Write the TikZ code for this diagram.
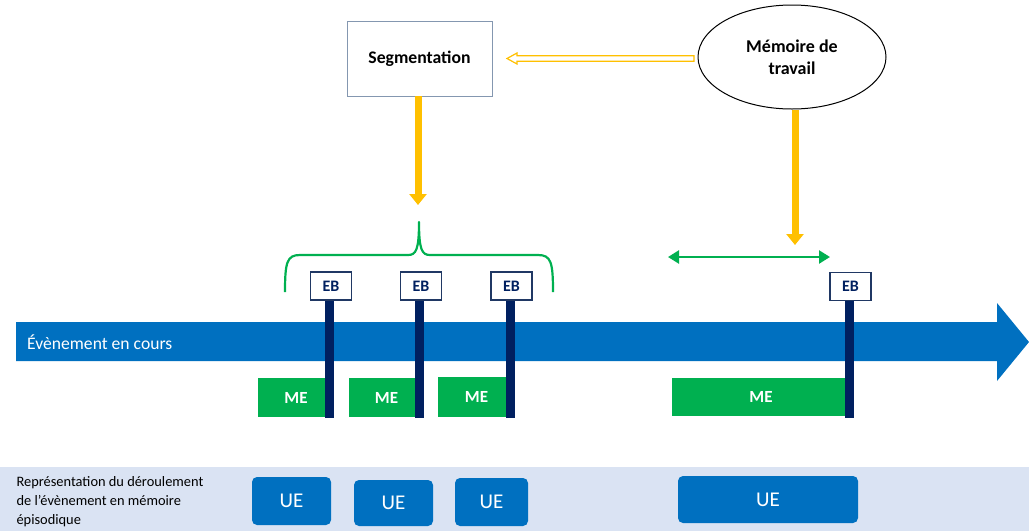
\documentclass[tikz,border=0pt]{standalone}
\usepackage{fontspec}
\setmainfont{Carlito}
\usetikzlibrary{shapes.geometric,arrows.meta,calc}
\definecolor{evblue}{HTML}{0070C0}
\definecolor{navy}{HTML}{002060}
\definecolor{megreen}{HTML}{00B050}
\definecolor{amber}{HTML}{FFC000}
\definecolor{bandbg}{HTML}{DAE3F3}
\definecolor{boxgray}{HTML}{8497B0}
\definecolor{ebline}{HTML}{203864}

\begin{document}
\begin{tikzpicture}[x=1pt,y=-1pt,
  ebbox/.style={draw=ebline, line width=1.1pt, fill=white, minimum width=41pt,
    minimum height=28pt, inner sep=0pt, text=navy,
    font=\fontsize{16}{18}\selectfont\bfseries},
  mebox/.style={fill=megreen, inner sep=0pt, text=white,
    font=\fontsize{17}{20}\selectfont\bfseries},
  uebox/.style={fill=evblue, rounded corners=5pt, inner sep=0pt, text=white,
    font=\fontsize{21}{25}\selectfont},
  barfill/.style={fill=navy},
  yarrow/.style={draw=amber, line width=7pt, -{Triangle[length=11pt,width=17pt]}},
  garrow/.style={draw=megreen, line width=2.4pt,
    {Triangle[length=11pt,width=13pt]}-{Triangle[length=11pt,width=13pt]}},
]
\useasboundingbox (0,0) rectangle (1029,531);

% bottom band: episodic memory
\fill[bandbg] (0,467) rectangle (1029,531);
\node[anchor=west, align=left, font=\fontsize{14.4}{19}\selectfont] (eplabel) at (13,502)
  {Représentation du déroulement\\de l’évènement en mémoire\\épisodique};
\node[uebox, minimum width=79pt, minimum height=48pt] (ue1) at (291.5,501) {UE};
\node[uebox, minimum width=79pt, minimum height=46pt] (ue2) at (393.5,503) {UE};
\node[uebox, minimum width=73pt, minimum height=48pt] (ue3) at (491.5,502) {UE};
\node[uebox, minimum width=180pt, minimum height=47pt] (ue4) at (768,499.5) {UE};

% ongoing event arrow
\fill[evblue] (16,322) -- (997,322) -- (997,303) -- (1029,342) -- (997,381)
  -- (997,361) -- (16,361) -- cycle;
\node[anchor=west, text=white, inner sep=0pt, font=\fontsize{17.6}{21}\selectfont]
  (event) at (27,342) {Évènement en cours};

% event models
\node[mebox, minimum width=76pt, minimum height=39pt] (me1) at (296,397.5) {ME};
\node[mebox, minimum width=75pt, minimum height=39pt] (me2) at (386.5,397.5) {ME};
\node[mebox, minimum width=77pt, minimum height=40pt] (me3) at (476.5,397) {ME};
\node[mebox, minimum width=178pt, minimum height=38pt] (me4) at (761,397) {ME};

% event boundaries
\node[ebbox] (eb1) at (331,286) {EB};
\node[ebbox] (eb2) at (421,286) {EB};
\node[ebbox] (eb3) at (511.5,286) {EB};
\node[ebbox] (eb4) at (850.5,286.5) {EB};
\foreach \b in {eb1,eb2,eb3,eb4}
  \fill[barfill] ($(\b.south)+(-6,0)$) rectangle ($(\b.south)+(3,117)$);
\foreach \b in {eb1,eb2,eb3,eb4}
  \node[ebbox] at (\b) {EB};

% segmentation and working memory
\node[draw=boxgray, line width=0.9pt, fill=white, minimum width=145pt, minimum height=75pt,
  inner sep=0pt, font=\fontsize{17.7}{21}\selectfont\bfseries] (seg) at (419.5,58.5) {Segmentation};
\node[draw=black, line width=1pt, ellipse, minimum width=188pt, minimum height=104pt,
  inner sep=0pt, align=center, font=\fontsize{18}{22}\selectfont\bfseries] (mem) at (792,57)
  {Mémoire de\\travail};

% hollow arrow from working memory to segmentation
\coordinate (hs) at (694,58.5);
\coordinate (ht) at (507,58.5);
\draw[amber, line width=1.2pt, fill=white]
  ($(hs)+(0,-2.75)$) -- ($(ht)+(10,-2.75)$) -- ($(ht)+(10,-5.5)$) -- (ht)
  -- ($(ht)+(10,5.5)$) -- ($(ht)+(10,2.75)$) -- ($(hs)+(0,2.75)$) -- cycle;

% yellow arrows downwards
\coordinate (segtip) at (418,205);
\coordinate (memtip) at (795,245);
\draw[yarrow] (seg.south -| segtip) -- (segtip);
\draw[yarrow] (mem.south -| memtip) -- (memtip);

% brace grouping the boundaries
\draw[megreen, line width=2.2pt, line join=round]
  (285,292) .. controls (285,262) and (287,255) .. (300,255) -- (408,255)
  .. controls (416,255) and (419,250) .. (419,222)
  .. controls (419,250) and (422,255) .. (430,255) -- (538,255)
  .. controls (551,255) and (553,262) .. (553,292);

% green double arrow
\coordinate (ga) at (668,257);
\coordinate (gb) at (830,257);
\draw[garrow] (ga) -- (gb);
\end{tikzpicture}
\end{document}
